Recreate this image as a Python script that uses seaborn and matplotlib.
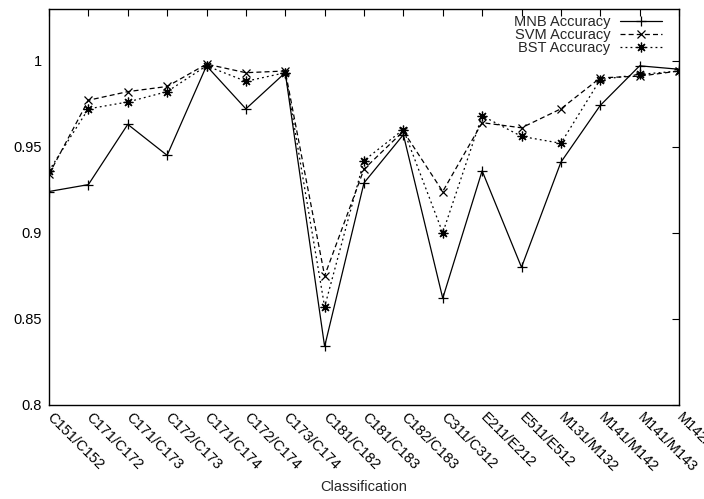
import matplotlib
matplotlib.use("Agg")
import matplotlib.pyplot as plt
import seaborn as sns
import pandas as pd
import numpy as np

categories = ["C151/C152", "C171/C172", "C171/C173", "C172/C173", "C171/C174",
              "C172/C174", "C173/C174", "C181/C182", "C181/C183", "C182/C183",
              "C311/C312", "E211/E212", "E511/E512", "M131/M132", "M141/M142",
              "M141/M143", "M142/M143"]
mnb = [0.924, 0.928, 0.963, 0.945, 0.997, 0.972, 0.993, 0.834, 0.929, 0.957,
       0.862, 0.936, 0.880, 0.941, 0.974, 0.997, 0.995]
svm = [0.934, 0.977, 0.982, 0.985, 0.998, 0.993, 0.994, 0.875, 0.937, 0.959,
       0.924, 0.964, 0.961, 0.972, 0.990, 0.991, 0.994]
bst = [0.936, 0.972, 0.976, 0.982, 0.997, 0.988, 0.993, 0.857, 0.942, 0.960,
       0.900, 0.968, 0.956, 0.952, 0.989, 0.992, 0.994]
series_names = ["MNB Accuracy", "SVM Accuracy", "BST Accuracy"]
y_ticks = [0.8, 0.85, 0.9, 0.95, 1.0]

sns.set_theme(style="white")
plt.rcParams["font.family"] = ["Liberation Sans", "DejaVu Sans"]
FS = 10.5

fig = plt.figure(figsize=(7.04, 4.99), dpi=100)
ax = fig.add_axes([49 / 704, 1 - 405 / 499, 630 / 704, 396 / 499])

idx = np.arange(len(categories))
df = pd.DataFrame({"idx": idx, "MNB": mnb, "SVM": svm, "BST": bst})

styles = [
    dict(linestyle="-", marker="+", markersize=7),
    dict(linestyle=(0, (4, 2.5)), marker="x", markersize=6),
    dict(linestyle=(0, (1.5, 2.5)), marker=(8, 2, 0), markersize=7),
]
for col, name, st in zip(["MNB", "SVM", "BST"], series_names, styles):
    sns.lineplot(data=df, x="idx", y=col, ax=ax, color="black", lw=0.9,
                 label=name, mec="black", mfc="black", mew=0.9, **st)

ax.set_xlim(0, len(categories) - 1)
ax.set_ylim(0.8, 1.03)
ax.set_xticks(idx)
ax.set_xticklabels(categories, rotation=-45, ha="left", va="center",
                   rotation_mode="anchor", fontsize=FS)
ax.set_yticks(y_ticks)
ax.set_yticklabels([f"{v:g}" for v in y_ticks], fontsize=FS)
ax.tick_params(direction="in", length=5, width=0.8, top=True, right=True,
               colors="black", pad=5)
ax.tick_params(axis="x", pad=7)
for s in ax.spines.values():
    s.set_color("black")
    s.set_linewidth(1.0)
ax.set_xlabel("Classification", fontsize=FS, labelpad=4)
ax.set_ylabel("")
ax.grid(False)

leg = ax.legend(loc="upper right", bbox_to_anchor=(0.973, 0.985),
                markerfirst=False, frameon=False,
                fontsize=FS, handlelength=2.9, handletextpad=0.65,
                labelspacing=-0.07, borderaxespad=0.0, borderpad=0.0)

fig.savefig("out.png", dpi=100)
